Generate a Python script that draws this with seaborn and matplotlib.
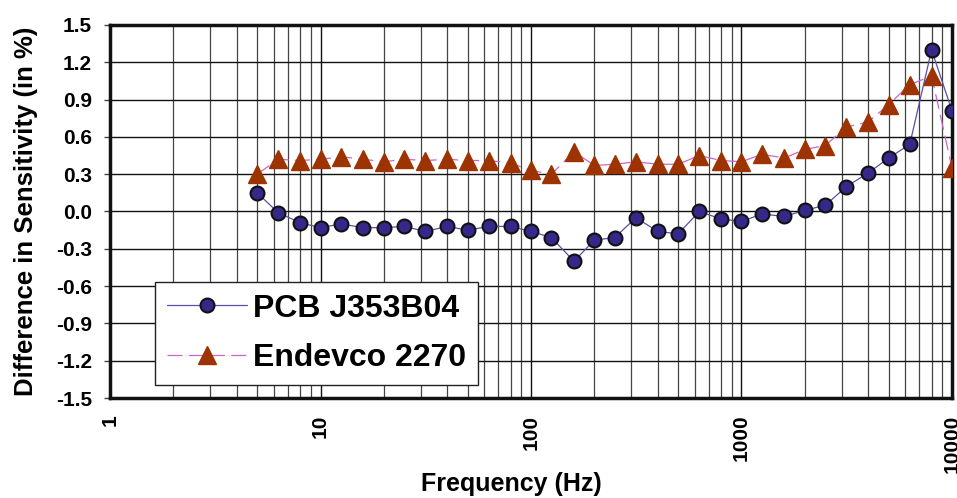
import numpy as np
import pandas as pd
import matplotlib
matplotlib.use("Agg")
import matplotlib.pyplot as plt
import seaborn as sns
from matplotlib.ticker import FixedLocator, LogLocator, NullFormatter

freq = [5, 6.3, 8, 10, 12.5, 16, 20, 25, 31.5, 40, 50, 63, 80, 100, 125, 160, 200,
        250, 315, 400, 500, 630, 800, 1000, 1250, 1600, 2000, 2500, 3150, 4000,
        5000, 6300, 8000, 10000]
pcb = [0.15, -0.01, -0.09, -0.13, -0.10, -0.13, -0.13, -0.12, -0.16, -0.12, -0.15,
       -0.12, -0.12, -0.16, -0.21, -0.40, -0.23, -0.21, -0.05, -0.16, -0.18, 0.00,
       -0.06, -0.08, -0.02, -0.04, 0.01, 0.05, 0.20, 0.31, 0.43, 0.54, 1.30, 0.81]
endevco = [0.30, 0.42, 0.41, 0.42, 0.44, 0.42, 0.40, 0.42, 0.41, 0.42, 0.41, 0.41,
           0.39, 0.33, 0.30, 0.48, 0.37, 0.38, 0.40, 0.38, 0.38, 0.45, 0.41, 0.40,
           0.46, 0.43, 0.50, 0.53, 0.68, 0.72, 0.86, 1.02, 1.09, 0.35]
series_names = ["PCB J353B04", "Endevco 2270"]
yticks = [-1.5, -1.2, -0.9, -0.6, -0.3, 0.0, 0.3, 0.6, 0.9, 1.2, 1.5]
xticks = [1, 10, 100, 1000, 10000]

df = pd.DataFrame({
    "freq": freq * 2,
    "value": pcb + endevco,
    "series": [series_names[0]] * len(freq) + [series_names[1]] * len(freq),
})

sns.set_theme(style="white")
plt.rcParams['font.family'] = ['Liberation Sans', 'DejaVu Sans']
plt.rcParams['text.color'] = 'black'
plt.rcParams['axes.labelcolor'] = 'black'
plt.rcParams['xtick.color'] = 'black'
plt.rcParams['ytick.color'] = 'black'

fig = plt.figure(figsize=(9.57, 4.98), dpi=100)
ax = fig.add_axes([110 / 957, 1 - 398 / 498, 842 / 957, 373 / 498])

sub1 = df[df.series == series_names[0]]
sub2 = df[df.series == series_names[1]]
sns.lineplot(data=sub1, x="freq", y="value", ax=ax, color="#5a4fa8", lw=0.9,
             marker="o", markersize=10, markerfacecolor="#34298a",
             markeredgecolor="#111111", markeredgewidth=1.5, label=series_names[0],
             zorder=4)
sns.lineplot(data=sub2, x="freq", y="value", ax=ax, color="#cc66cc", lw=0.9,
             marker="^", markersize=13, markerfacecolor="#9c3300",
             markeredgecolor="#9c3300", markeredgewidth=1, label=series_names[1],
             zorder=3)
ax.lines[1].set_dashes([12, 5])

ax.set_xscale("log")
ax.set_xlim(1, 10000)
ax.set_ylim(-1.5, 1.5)
ax.xaxis.set_major_locator(FixedLocator(xticks))
ax.set_xticklabels([str(t) for t in xticks], rotation=90, fontweight="bold", fontsize=15)
ax.xaxis.set_minor_locator(LogLocator(base=10, subs=np.arange(2, 10)))
ax.xaxis.set_minor_formatter(NullFormatter())
ax.set_yticks(yticks)
ax.set_yticklabels([f"{t:.1f}" for t in yticks], fontweight="bold", fontsize=15)

ax.grid(True, which="major", axis="both", color="#111111", lw=1.0)
ax.grid(True, which="minor", axis="x", color="#444444", lw=0.9)
ax.set_axisbelow(True)

ax.tick_params(axis="y", which="major", left=True, length=4, width=1, color="#444444", pad=9)
ax.tick_params(axis="x", which="both", bottom=False, pad=6)

for s in ax.spines.values():
    s.set_visible(True)
    s.set_color("#111111")
    s.set_linewidth(2.5)

ax.set_xlabel("Frequency (Hz)", fontsize=18, fontweight="bold")
ax.xaxis.set_label_coords(0.477, -0.198)
ax.set_ylabel("Difference in Sensitivity (in %)", fontsize=18.5, fontweight="bold", labelpad=13)

leg = ax.legend(loc="lower left", bbox_to_anchor=(0.053, 0.035), borderaxespad=0,
                fancybox=False, framealpha=1, edgecolor="#222222",
                prop={"weight": "bold", "size": 23}, handlelength=2.5,
                borderpad=0.38, labelspacing=0.6, handletextpad=0.2)
leg.get_frame().set_linewidth(1.0)

fig.savefig("out.png", dpi=100)
